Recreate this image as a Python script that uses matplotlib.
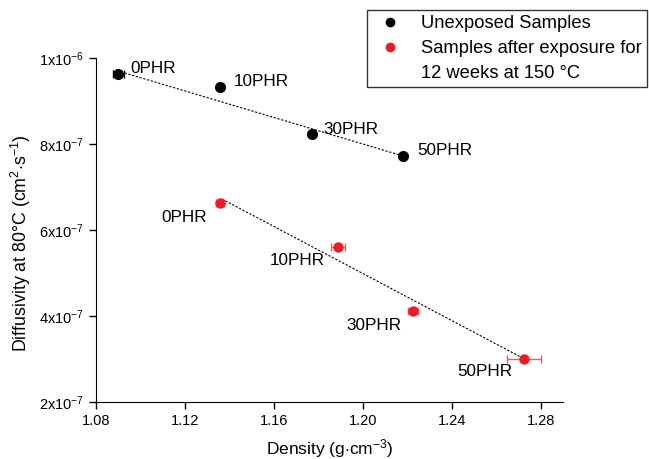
import numpy as np
import matplotlib
matplotlib.use('Agg')
import matplotlib.pyplot as plt
from matplotlib.lines import Line2D
from matplotlib.ticker import FuncFormatter

plt.rcParams['font.family'] = ['Liberation Sans', 'DejaVu Sans']
plt.rcParams['mathtext.fontset'] = 'custom'
plt.rcParams['mathtext.rm'] = 'Liberation Sans'
plt.rcParams['mathtext.it'] = 'Liberation Sans:italic'

# data
labels = ['0PHR', '10PHR', '30PHR', '50PHR']

unexp_density = [1.0899, 1.1357, 1.1771, 1.2180]
unexp_diff = [9.63e-7, 9.33e-7, 8.23e-7, 7.72e-7]
unexp_xerr = [0.0025, 0.0012, 0.0012, 0.0010]

exp_density = [1.1357, 1.1888, 1.2225, 1.2724]
exp_diff = [6.62e-7, 5.61e-7, 4.11e-7, 3.00e-7]
exp_xerr = [0.0018, 0.0030, 0.0023, 0.0078]

# dashed trend lines (end points)
unexp_fit_x = [1.0895, 1.2180]
unexp_fit_y = [9.70e-7, 7.72e-7]
exp_fit_x = [1.1366, 1.2720]
exp_fit_y = [6.72e-7, 3.02e-7]

# label offsets in points (dx, dy)
unexp_offsets = [(9, 4), (10, 4), (8, 3), (10, 4)]
exp_offsets = [(-42, -10), (-49, -10), (-48, -10), (-48, -9)]

red = '#ec1c24'

fig = plt.figure(figsize=(6.49, 4.59), dpi=100)
ax = fig.add_axes([0.148, 0.124, 0.7195, 0.7500])

ax.plot(unexp_fit_x, unexp_fit_y, linestyle=(0, (2, 1.5)), color='black', linewidth=0.8)
ax.plot(exp_fit_x, exp_fit_y, linestyle=(0, (2, 1.5)), color='black', linewidth=0.8)

ax.errorbar(unexp_density, unexp_diff, xerr=unexp_xerr, fmt='o', color='black',
            markersize=7, capsize=3, elinewidth=1, capthick=1)
ax.errorbar(exp_density, exp_diff, xerr=exp_xerr, fmt='o', color=red, ecolor='#f05a60',
            markersize=6.5, capsize=3, elinewidth=1, capthick=1)

for lab, x, y, off in zip(labels, unexp_density, unexp_diff, unexp_offsets):
    ax.annotate(lab, (x, y), xytext=off, textcoords='offset points', fontsize=12.3,
                va='center', ha='left')
for lab, x, y, off in zip(labels, exp_density, exp_diff, exp_offsets):
    ax.annotate(lab, (x, y), xytext=off, textcoords='offset points', fontsize=12.3,
                va='center', ha='left')

ax.set_xlim(1.08, 1.29)
ax.set_ylim(2e-7, 1e-6)
ax.set_xticks([1.08, 1.12, 1.16, 1.20, 1.24, 1.28])
ax.xaxis.set_major_formatter(FuncFormatter(lambda v, p: f'{v:.2f}'))
ax.set_yticks([2e-7, 4e-7, 6e-7, 8e-7, 1e-6])


def sci(v, p):
    e = int(np.floor(np.log10(v) + 1e-9))
    m = v / 10 ** e
    return r'%dx10$^{%d}$' % (round(m), e)


ax.yaxis.set_major_formatter(FuncFormatter(sci))
ax.tick_params(direction='out', length=5, width=1, labelsize=10.5)
ax.spines['top'].set_visible(False)
ax.spines['right'].set_visible(False)
ax.set_xlabel(r'Density (g$\cdot$cm$^{-3}$)', fontsize=12.5)
ax.xaxis.set_label_coords(0.5, -0.102)
ax.set_ylabel(r'Diffusivity at 80$\degree$C (cm$^{2}$$\cdot$s$^{-1}$)', fontsize=12.8)
ax.yaxis.set_label_coords(-0.134, 0.462)

handles = [Line2D([], [], marker='o', linestyle='none', color='black', markersize=6),
           Line2D([], [], marker='o', linestyle='none', color=red, markersize=6),
           Line2D([], [], linestyle='none')]
leg_labels = ['Unexposed Samples', 'Samples after exposure for', '12 weeks at 150 \u00b0C']
leg = fig.legend(handles, leg_labels, loc='upper left', bbox_to_anchor=(367 / 649, 1 - 10 / 459),
                 fontsize=13.2, frameon=True, fancybox=False, edgecolor='black',
                 handletextpad=0.75, handlelength=1.9, borderpad=0.3, labelspacing=0.42,
                 borderaxespad=0)
leg.get_frame().set_linewidth(1)

fig.savefig('out.png', dpi=100)
